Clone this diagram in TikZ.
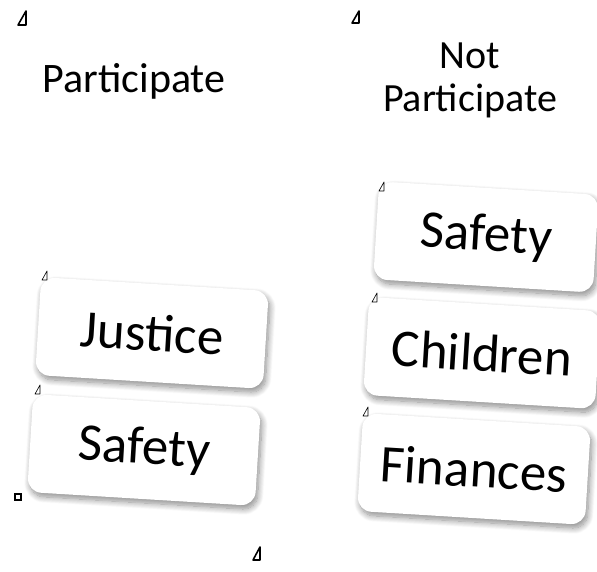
\documentclass[tikz,border=0pt]{standalone}
\usepackage{fontspec}
\setmainfont{Carlito}
\usetikzlibrary{shadows.blur}

\tikzset{
  card/.style={fill=white, rounded corners=14pt, minimum width=228pt, minimum height=98pt,
    inner sep=0pt, rotate=-3.5, font=\fontsize{53}{60}\selectfont,
    blur shadow={shadow xshift=2pt, shadow yshift=-4pt, shadow blur radius=6pt,
      shadow blur steps=12, shadow opacity=45}},
  heading/.style={align=center, font=\fontsize{42}{43}\selectfont},
  bigmark/.style={line width=1.6pt, line join=round},
  smallmark/.style={line width=0.6pt, line join=round},
}

\begin{document}
\begin{tikzpicture}[x=1pt,y=-1pt]
\useasboundingbox (0,0) rectangle (597,572);
% column headings
\node[heading] (part) at (134,81) {Participate};
\node[heading, font=\fontsize{40}{43}\selectfont] (notpart) at (470,80) {Not\\Participate};
% left column
\node[card] (justice) at (152,333) {Justice};
\node[card] (safetyl) at (144,450) {Safety};
% right column
\node[card, minimum width=220pt] (safetyr) at (486,237) {Safety};
\node[card, minimum width=232pt] (children) at (482,353) {Children};
\node[card] (finances) at (474,469) {Finances};
% anchor marks
\draw[bigmark] (18,25) -- (26,25) -- (26,11) -- cycle;
\draw[bigmark] (352,23) -- (359,23) -- (359,11) -- cycle;
\draw[bigmark] (253,560) -- (260,560) -- (260,547) -- cycle;
\draw[smallmark] (42,280) -- (47,280) -- (47,271) -- cycle;
\draw[smallmark] (35,394) -- (40,394) -- (40,385) -- cycle;
\draw[smallmark] (379,191) -- (384,191) -- (384,182) -- cycle;
\draw[smallmark] (372,302) -- (377,302) -- (377,293) -- cycle;
\draw[smallmark] (363,416) -- (368,416) -- (368,407) -- cycle;
\draw[line width=1.4pt] (15,494) rectangle (21,500);
\end{tikzpicture}
\end{document}
